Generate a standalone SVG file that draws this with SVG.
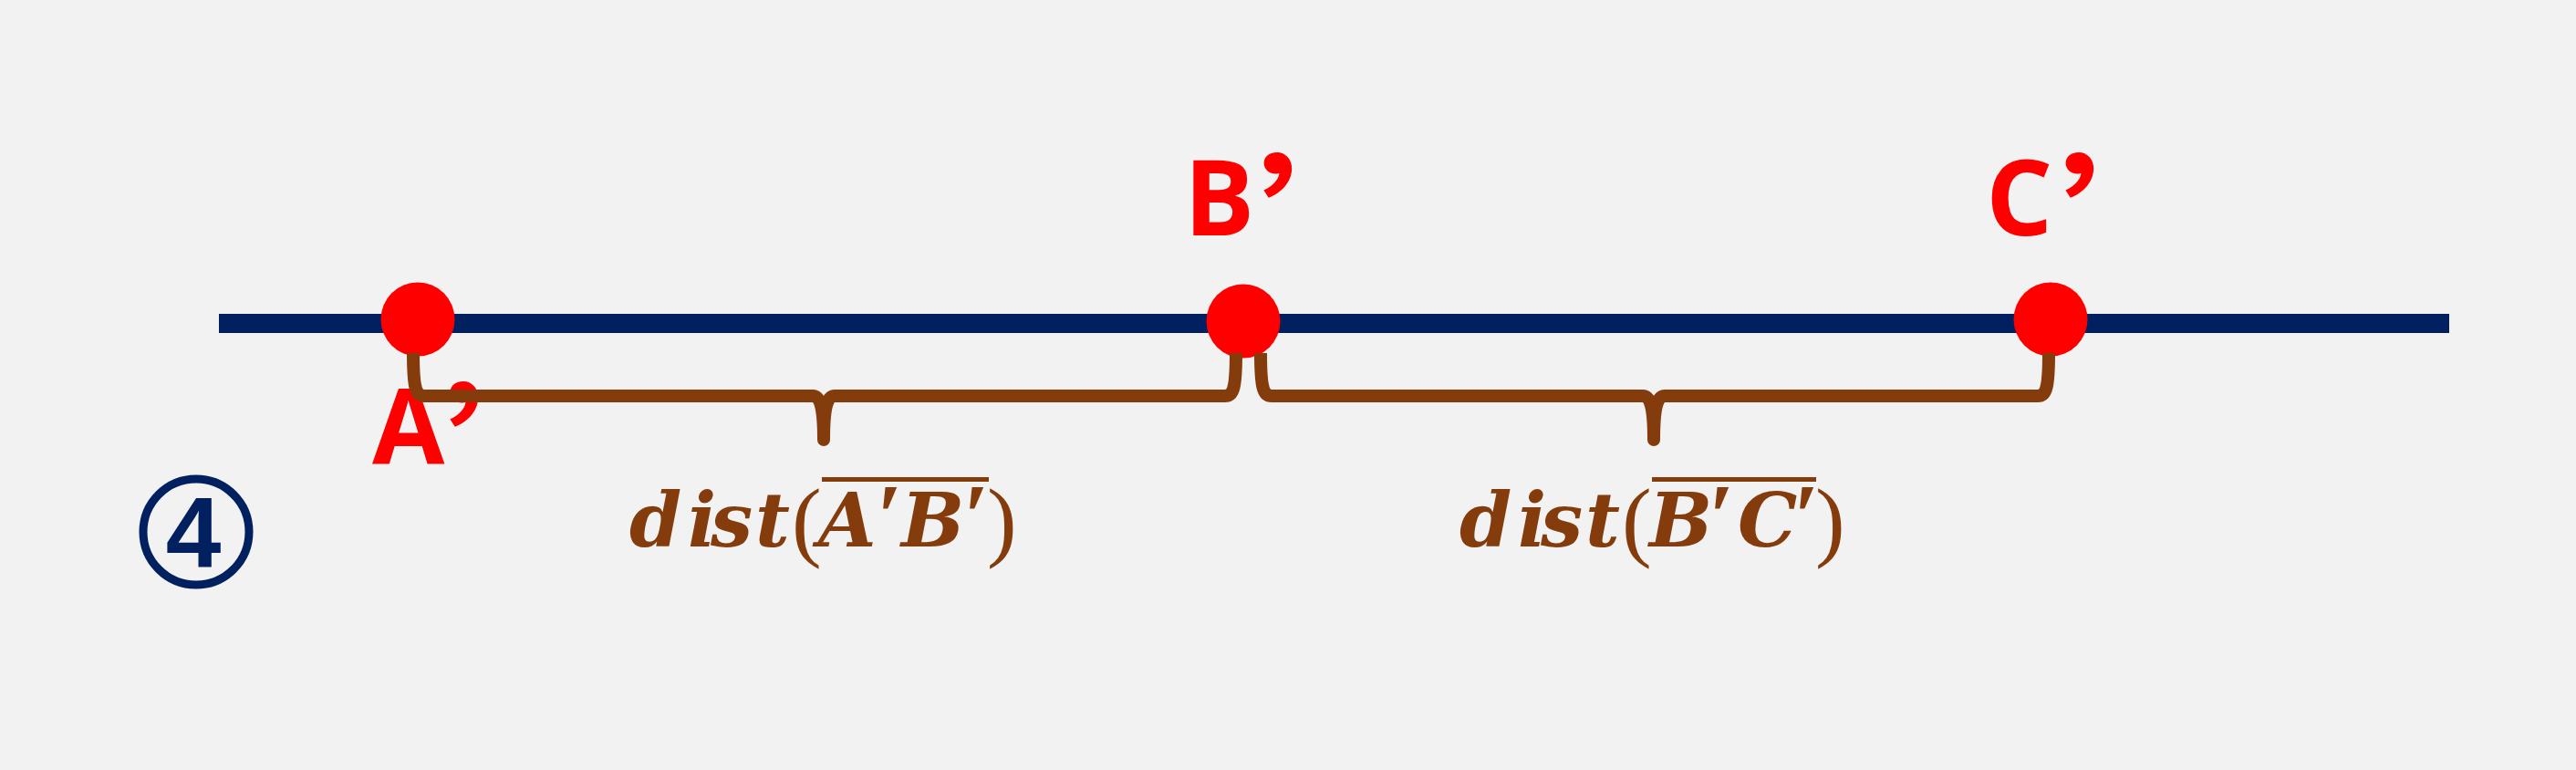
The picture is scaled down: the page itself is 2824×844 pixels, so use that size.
<svg xmlns="http://www.w3.org/2000/svg" width="2824" height="844" viewBox="0 0 2824 844">
<style>
.pt{fill:#FF0000}
.lbl{font-family:"Open Sans","Liberation Sans",sans-serif;font-weight:bold;font-size:115px;fill:#FF0000}
.ap{font-family:"Noto Sans CJK SC","Noto Sans",sans-serif;font-weight:bold;font-size:160px;fill:#FF0000}
.brace{fill:none;stroke:#843C0C;stroke-width:14;stroke-linecap:butt;stroke-linejoin:round}
.m{font-family:"DejaVu Serif",serif;font-weight:bold;font-style:italic;font-size:82px;fill:#843C0C}
.pr{font-family:"Liberation Serif",serif;font-weight:bold;font-style:italic;font-size:100px;fill:#843C0C}
.p{font-family:"Liberation Serif",serif;font-weight:normal;font-style:normal;font-size:98px;fill:#843C0C}
.ov{stroke:#843C0C;stroke-width:5}
</style>
<rect x="0" y="0" width="2824" height="844" fill="#F2F2F2"/>
<g id="axis">
<rect x="240" y="344" width="2445" height="21" fill="#002060"/>
</g>
<g id="nodeA">
<circle class="pt" cx="458" cy="350" r="40.5"/>
<text class="lbl" x="408" y="509">A</text>
<text class="ap" transform="translate(487,555) scale(1.15,1)">’</text>
</g>
<g id="nodeB">
<circle class="pt" cx="1363" cy="352" r="40.5"/>
<text class="lbl" x="1298" y="258">B</text>
<text class="ap" transform="translate(1379,304) scale(1.15,1)">’</text>
</g>
<g id="nodeC">
<circle class="pt" cx="2248" cy="350" r="40.5"/>
<text class="lbl" x="2177" y="258">C</text>
<text class="ap" transform="translate(2258,304) scale(1.15,1)">’</text>
</g>
<g id="connectors">
<path class="brace" d="M453,387 C453,426 456,434 465,434 L891,434 C899,434 903,446 903,482 C903,446 907,434 915,434 L1343,434 C1352,434 1355,426 1355,387"/>
<path class="brace" d="M1382,387 C1382,426 1385,434 1394,434 L1801,434 C1809,434 1813,446 1813,482 C1813,446 1817,434 1825,434 L2234,434 C2243,434 2246,426 2246,387"/>
</g>
<g id="labelAB">
<text class="m" y="599"><tspan x="690">d</tspan><tspan x="754">i</tspan><tspan x="779">s</tspan><tspan x="828">t</tspan></text>
<text class="p" x="868" y="603">(</text>
<text class="m" y="599"><tspan x="897">A</tspan><tspan x="988">B</tspan></text>
<text class="pr" y="599"><tspan x="960">′</tspan><tspan x="1055">′</tspan></text>
<text class="p" x="1082" y="603">)</text>
<line class="ov" x1="901" y1="525.5" x2="1084" y2="525.5"/>
</g>
<g id="labelBC">
<text class="m" y="599"><tspan x="1600">d</tspan><tspan x="1664">i</tspan><tspan x="1689">s</tspan><tspan x="1738">t</tspan></text>
<text class="p" x="1778" y="603">(</text>
<text class="m" y="599"><tspan x="1808">B</tspan><tspan x="1905">C</tspan></text>
<text class="pr" y="599"><tspan x="1872">′</tspan><tspan x="1965">′</tspan></text>
<text class="p" x="1990" y="603">)</text>
<line class="ov" x1="1811" y1="525.5" x2="1991" y2="525.5"/>
</g>
<g id="step">
<circle cx="215" cy="583" r="58" fill="none" stroke="#002060" stroke-width="9"/>
<text x="212" y="621" text-anchor="middle" font-family="Liberation Sans,Arial,sans-serif" font-weight="bold" font-size="109" fill="#002060">4</text>
</g>
</svg>
